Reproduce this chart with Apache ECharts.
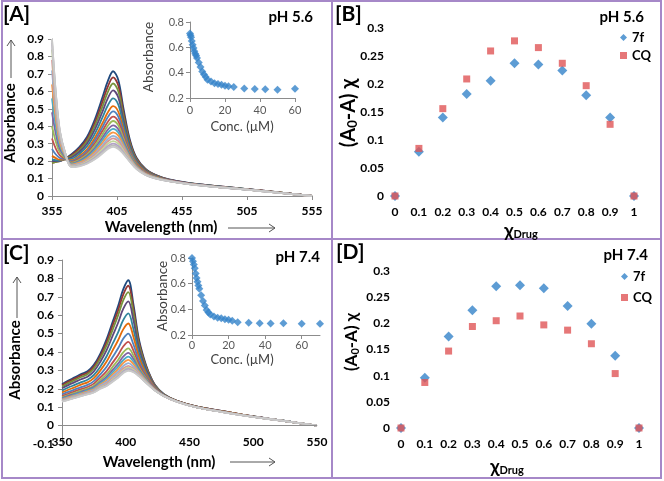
<!DOCTYPE html>
<html><head><meta charset="utf-8">
<script src="https://cdn.jsdelivr.net/npm/echarts@6/dist/echarts.min.js"></script>
<style>html,body{margin:0;padding:0;background:#fff}#c{width:664px;height:481px}</style>
</head><body><div id="c"></div>
<script>
// ---------- DATA ----------
// Panel A (pH 5.6) spectra
const wavelengthsA = [355,358,361,365,370,376,382,388,394,398,402,406,410,415,420,427,435,445,460,480,505,530,555];
const spectraA = [
 [0.20,0.20,0.205,0.215,0.24,0.28,0.34,0.44,0.57,0.66,0.715,0.665,0.50,0.32,0.22,0.155,0.12,0.095,0.075,0.058,0.04,0.02,0],
 [0.19,0.195,0.20,0.214,0.234,0.271,0.327,0.421,0.544,0.628,0.68,0.633,0.479,0.31,0.215,0.152,0.118,0.094,0.074,0.058,0.04,0.02,0],
 [0.19,0.195,0.20,0.213,0.228,0.262,0.315,0.403,0.517,0.597,0.645,0.601,0.458,0.30,0.209,0.149,0.117,0.093,0.074,0.057,0.039,0.02,0],
 [0.20,0.20,0.20,0.211,0.221,0.252,0.301,0.382,0.487,0.561,0.605,0.565,0.434,0.288,0.203,0.146,0.115,0.092,0.073,0.056,0.039,0.019,0],
 [0.21,0.205,0.203,0.21,0.213,0.241,0.285,0.358,0.454,0.52,0.56,0.524,0.407,0.275,0.197,0.142,0.113,0.091,0.072,0.056,0.039,0.019,0],
 [0.23,0.217,0.208,0.21,0.205,0.229,0.268,0.334,0.42,0.48,0.515,0.483,0.38,0.262,0.19,0.139,0.111,0.09,0.071,0.055,0.038,0.019,0],
 [0.27,0.238,0.218,0.212,0.20,0.222,0.258,0.318,0.397,0.453,0.485,0.455,0.362,0.254,0.185,0.136,0.109,0.089,0.071,0.055,0.038,0.019,0],
 [0.33,0.27,0.233,0.215,0.195,0.214,0.247,0.302,0.375,0.426,0.455,0.428,0.344,0.245,0.181,0.134,0.108,0.089,0.071,0.054,0.038,0.019,0],
 [0.40,0.31,0.25,0.219,0.191,0.208,0.238,0.289,0.356,0.403,0.43,0.405,0.329,0.238,0.177,0.132,0.107,0.088,0.07,0.054,0.037,0.019,0],
 [0.48,0.355,0.27,0.224,0.186,0.201,0.229,0.275,0.337,0.381,0.405,0.382,0.314,0.231,0.173,0.13,0.106,0.088,0.07,0.054,0.037,0.019,0],
 [0.56,0.398,0.29,0.229,0.183,0.196,0.222,0.265,0.322,0.363,0.385,0.364,0.302,0.225,0.17,0.128,0.105,0.087,0.07,0.053,0.037,0.018,0],
 [0.64,0.442,0.31,0.234,0.179,0.191,0.215,0.254,0.307,0.345,0.365,0.346,0.29,0.219,0.167,0.127,0.104,0.087,0.069,0.053,0.037,0.018,0],
 [0.72,0.486,0.33,0.24,0.176,0.186,0.207,0.243,0.292,0.327,0.345,0.327,0.278,0.213,0.164,0.125,0.103,0.086,0.069,0.053,0.036,0.018,0],
 [0.78,0.519,0.345,0.244,0.173,0.182,0.202,0.236,0.281,0.313,0.33,0.314,0.269,0.209,0.162,0.124,0.102,0.086,0.069,0.053,0.036,0.018,0],
 [0.84,0.552,0.36,0.248,0.171,0.178,0.197,0.227,0.27,0.30,0.315,0.30,0.26,0.205,0.16,0.123,0.102,0.085,0.068,0.052,0.036,0.018,0],
 [0.88,0.574,0.37,0.25,0.168,0.175,0.192,0.22,0.259,0.286,0.30,0.287,0.251,0.20,0.158,0.121,0.101,0.085,0.068,0.052,0.036,0.018,0],
 [0.90,0.585,0.375,0.25,0.166,0.172,0.188,0.214,0.251,0.277,0.29,0.277,0.245,0.197,0.156,0.121,0.10,0.085,0.068,0.052,0.036,0.018,0],
 [0.90,0.585,0.375,0.25,0.165,0.17,0.185,0.21,0.245,0.27,0.282,0.27,0.24,0.195,0.155,0.12,0.10,0.085,0.068,0.052,0.036,0.018,0]
];
// Panel A inset
const concA = [0,0.3,0.6,1,1.5,2,2.5,3,3.5,4,5,6,7,8,9,10,12,14,16,18,20,22,25,31,37,43,50,60];
const absA  = [0.71,0.695,0.68,0.65,0.62,0.595,0.57,0.55,0.535,0.515,0.48,0.445,0.41,0.385,0.365,0.345,0.33,0.317,0.31,0.305,0.296,0.292,0.287,0.275,0.272,0.27,0.265,0.273];

// Panel C (pH 7.4) spectra
const wavelengthsC = [350,355,360,365,370,375,380,385,390,394,398,402,406,410,414,418,423,430,440,455,475,500,525,550];
const spectraC = [
 [0.225,0.245,0.262,0.28,0.295,0.33,0.39,0.47,0.57,0.65,0.74,0.79,0.66,0.48,0.37,0.29,0.22,0.17,0.135,0.105,0.08,0.05,0.025,0],
 [0.219,0.239,0.255,0.273,0.287,0.321,0.378,0.454,0.55,0.626,0.712,0.76,0.637,0.467,0.362,0.286,0.218,0.169,0.135,0.105,0.08,0.05,0.025,0],
 [0.212,0.231,0.247,0.264,0.279,0.31,0.365,0.436,0.526,0.599,0.68,0.725,0.611,0.452,0.354,0.281,0.216,0.169,0.134,0.104,0.079,0.05,0.025,0],
 [0.203,0.22,0.236,0.252,0.266,0.295,0.346,0.41,0.493,0.559,0.634,0.675,0.573,0.431,0.341,0.274,0.213,0.168,0.134,0.104,0.079,0.05,0.025,0],
 [0.19,0.207,0.221,0.236,0.249,0.275,0.32,0.377,0.449,0.507,0.573,0.61,0.525,0.403,0.324,0.264,0.209,0.166,0.133,0.103,0.078,0.049,0.025,0],
 [0.18,0.195,0.208,0.223,0.235,0.258,0.299,0.348,0.412,0.464,0.523,0.555,0.483,0.38,0.31,0.257,0.206,0.165,0.133,0.103,0.078,0.049,0.024,0],
 [0.169,0.183,0.196,0.209,0.221,0.242,0.278,0.32,0.376,0.42,0.472,0.50,0.442,0.356,0.296,0.249,0.202,0.164,0.132,0.102,0.077,0.049,0.024,0],
 [0.16,0.173,0.186,0.198,0.21,0.228,0.261,0.296,0.345,0.384,0.43,0.455,0.408,0.337,0.285,0.242,0.20,0.163,0.132,0.102,0.077,0.049,0.024,0],
 [0.154,0.166,0.178,0.19,0.201,0.217,0.247,0.278,0.322,0.357,0.398,0.42,0.382,0.322,0.276,0.237,0.197,0.162,0.131,0.101,0.076,0.048,0.024,0],
 [0.149,0.161,0.172,0.184,0.195,0.21,0.237,0.265,0.305,0.337,0.375,0.395,0.363,0.311,0.27,0.234,0.196,0.162,0.131,0.101,0.076,0.048,0.024,0],
 [0.145,0.156,0.168,0.179,0.19,0.204,0.23,0.255,0.292,0.321,0.356,0.375,0.348,0.303,0.265,0.231,0.195,0.162,0.131,0.101,0.076,0.048,0.024,0],
 [0.141,0.153,0.163,0.174,0.185,0.198,0.223,0.246,0.28,0.307,0.34,0.357,0.334,0.295,0.26,0.228,0.194,0.161,0.131,0.101,0.076,0.048,0.024,0],
 [0.138,0.149,0.16,0.17,0.181,0.193,0.216,0.237,0.268,0.293,0.324,0.34,0.321,0.288,0.256,0.226,0.193,0.161,0.13,0.10,0.075,0.048,0.024,0],
 [0.135,0.146,0.156,0.167,0.177,0.188,0.21,0.229,0.258,0.281,0.31,0.325,0.31,0.282,0.252,0.224,0.192,0.16,0.13,0.10,0.075,0.048,0.024,0],
 [0.133,0.144,0.154,0.164,0.174,0.185,0.207,0.224,0.252,0.274,0.301,0.315,0.303,0.277,0.249,0.222,0.191,0.16,0.13,0.10,0.075,0.048,0.024,0],
 [0.132,0.142,0.152,0.162,0.172,0.183,0.204,0.22,0.247,0.268,0.294,0.308,0.297,0.274,0.247,0.221,0.19,0.16,0.13,0.10,0.075,0.048,0.024,0],
 [0.131,0.141,0.151,0.161,0.171,0.181,0.202,0.217,0.243,0.263,0.289,0.302,0.293,0.272,0.246,0.22,0.19,0.16,0.13,0.10,0.075,0.048,0.024,0],
 [0.13,0.14,0.15,0.16,0.17,0.18,0.20,0.215,0.24,0.26,0.285,0.298,0.29,0.27,0.245,0.22,0.19,0.16,0.13,0.10,0.075,0.048,0.024,0]
];
// Panel C inset
const concC = [0,0.5,1,1.5,2,2.5,3,3.5,4,5,6,7,8,9,10,12,14,16,18,20,22,25,31,37,43,50,60,70];
const absC  = [0.80,0.775,0.75,0.72,0.68,0.645,0.615,0.585,0.56,0.51,0.465,0.43,0.395,0.375,0.36,0.345,0.335,0.33,0.322,0.318,0.312,0.30,0.296,0.292,0.289,0.291,0.287,0.287];

// Panels B and D (Job plots)
const xDrug = [0,0.1,0.2,0.3,0.4,0.5,0.6,0.7,0.8,0.9,1];
const b7f = [0,0.079,0.14,0.182,0.206,0.237,0.235,0.224,0.18,0.14,0];
const bCQ = [0,0.085,0.156,0.209,0.259,0.277,0.265,0.237,0.197,0.128,0];
const d7f = [0,0.096,0.175,0.225,0.271,0.273,0.267,0.233,0.199,0.138,0];
const dCQ = [0,0.087,0.147,0.194,0.205,0.214,0.197,0.187,0.161,0.104,0];

// ---------- CHART ----------
const FONT = 'Lato, "DejaVu Sans", sans-serif';
const AXC = '#8c8c8c';
const curveColors = ['#1f497d','#943634','#77933c','#5f497a','#31859c','#e46c0a','#4f81bd','#c0504d','#9bbb59','#8064a2','#4bacc6','#f79646','#95b3d7','#d99694','#c3d69b','#b3a2c7','#bcbcbc','#cacaca'];
const BLUE = '#3483c9', RED = '#e05556';
const offA = wavelengthsA[0];

const boldLbl = (margin, extra) => Object.assign({fontSize:12, fontWeight:'bold', color:'#000', fontFamily:FONT, margin:margin}, extra||{});
const insetLbl = (margin, extra) => Object.assign({fontSize:11, color:'#595959', fontFamily:FONT, margin:margin}, extra||{});
const lineOn = {show:true, onZero:false, lineStyle:{color:AXC, width:1}};
const lineOff = {show:false, onZero:false};
const tickOn = {show:true, length:4, lineStyle:{color:AXC}};

const grid = [
  {left:52, top:39, width:260, height:157},   // A
  {left:190, top:22, width:105, height:76},   // A inset
  {left:395, top:28, width:239, height:168},  // B
  {left:62, top:260, width:255, height:184},  // C
  {left:192, top:258, width:128, height:77},  // C inset
  {left:401, top:271, width:238, height:157}  // D
];
const xAxis = [
  {gridIndex:0, type:'value', min:0, max:200, interval:50, axisLine:lineOn, axisTick:tickOn, splitLine:{show:false}, axisLabel:boldLbl(9,{formatter:v=>String(v+offA)})},
  {gridIndex:1, type:'value', min:0, max:60, interval:20, axisLine:lineOn, axisTick:tickOn, splitLine:{show:false}, axisLabel:insetLbl(7)},
  {gridIndex:2, type:'value', min:0, max:1, interval:0.1, axisLine:lineOff, axisTick:{show:false}, splitLine:{show:false}, axisLabel:boldLbl(10)},
  {gridIndex:3, type:'value', min:350, max:550, interval:50, axisLine:lineOff, axisTick:{show:false}, splitLine:{show:false}, axisLabel:boldLbl(-8)},
  {gridIndex:4, type:'value', min:0, max:70, interval:20, axisLine:lineOn, axisTick:tickOn, splitLine:{show:false}, axisLabel:insetLbl(5,{showMaxLabel:false})},
  {gridIndex:5, type:'value', min:0, max:1, interval:0.1, axisLine:lineOff, axisTick:{show:false}, splitLine:{show:false}, axisLabel:boldLbl(10)}
];
const yAxis = [
  {gridIndex:0, type:'value', min:0, max:0.9, interval:0.1, axisLine:lineOn, axisTick:tickOn, splitLine:{show:false}, axisLabel:boldLbl(8)},
  {gridIndex:1, type:'value', min:0.2, max:0.8, interval:0.2, axisLine:lineOn, axisTick:tickOn, splitLine:{show:false}, axisLabel:insetLbl(6)},
  {gridIndex:2, type:'value', min:0, max:0.3, interval:0.05, axisLine:lineOff, axisTick:{show:false}, splitLine:{show:false}, axisLabel:boldLbl(11)},
  {gridIndex:3, type:'value', min:-0.1, max:0.9, interval:0.1, axisLine:lineOn, axisTick:tickOn, splitLine:{show:false}, axisLabel:boldLbl(8)},
  {gridIndex:4, type:'value', min:0.2, max:0.8, interval:0.2, axisLine:lineOn, axisTick:tickOn, splitLine:{show:false}, axisLabel:insetLbl(6)},
  {gridIndex:5, type:'value', min:0, max:0.3, interval:0.05, axisLine:lineOff, axisTick:{show:false}, splitLine:{show:false}, axisLabel:boldLbl(11)}
];

const series = [];
spectraA.forEach((row, k) => series.push({
  type:'line', xAxisIndex:0, yAxisIndex:0, silent:true, showSymbol:false, smooth:0.35,
  data: row.map((v, i) => [wavelengthsA[i] - offA, v]),
  lineStyle:{width:1.8, color:curveColors[k]}, itemStyle:{color:curveColors[k]}
}));
spectraC.forEach((row, k) => {
  const s = {
    type:'line', xAxisIndex:3, yAxisIndex:3, silent:true, showSymbol:false, smooth:0.35,
    data: row.map((v, i) => [wavelengthsC[i], v]),
    lineStyle:{width:1.8, color:curveColors[k]}, itemStyle:{color:curveColors[k]}
  };
  if (k === 0) s.markLine = {silent:true, symbol:['none','none'], label:{show:false}, animation:false,
    lineStyle:{color:AXC, width:1, type:'solid'}, data:[{yAxis:0}]};
  series.push(s);
});
series.push({type:'scatter', name:'insetA', xAxisIndex:1, yAxisIndex:1, symbol:'diamond', symbolSize:8,
  itemStyle:{color:BLUE}, data: concA.map((c, i) => [c, absA[i]])});
series.push({type:'scatter', name:'insetC', xAxisIndex:4, yAxisIndex:4, symbol:'diamond', symbolSize:8,
  itemStyle:{color:BLUE}, data: concC.map((c, i) => [c, absC[i]])});
series.push({type:'scatter', name:'7f', xAxisIndex:2, yAxisIndex:2, symbol:'diamond', symbolSize:10,
  itemStyle:{color:BLUE}, data: xDrug.map((x, i) => [x, b7f[i]])});
series.push({type:'scatter', name:'CQ', xAxisIndex:2, yAxisIndex:2, symbol:'rect', symbolSize:7,
  itemStyle:{color:RED}, data: xDrug.map((x, i) => [x, bCQ[i]])});
series.push({type:'scatter', name:'7f', xAxisIndex:5, yAxisIndex:5, symbol:'diamond', symbolSize:10,
  itemStyle:{color:BLUE}, data: xDrug.map((x, i) => [x, d7f[i]])});
series.push({type:'scatter', name:'CQ', xAxisIndex:5, yAxisIndex:5, symbol:'rect', symbolSize:7,
  itemStyle:{color:RED}, data: xDrug.map((x, i) => [x, dCQ[i]])});

const legendText = {fontSize:13, fontWeight:'bold', color:'#000', fontFamily:FONT};
const legendItems = [{name:'7f', icon:'diamond', itemStyle:{}},{name:'CQ', icon:'rect'}];
const legend = [
  {data:legendItems, orient:'vertical', left:620, top:31,
   itemWidth:7, itemHeight:7, itemGap:5, padding:0, selectedMode:false, textStyle:legendText},
  {data:legendItems, orient:'vertical', left:621, top:270,
   itemWidth:7, itemHeight:7, itemGap:8, padding:0, selectedMode:false, textStyle:legendText}
];

const PURPLE = '#a688c8';
const txt = (x, y, text, size, weight, align, extra) => Object.assign({type:'text', x:x, y:y, z:100,
  style:{text:text, fontSize:size, fontWeight:weight||'normal', fontFamily:FONT, fill:'#000',
         align:align||'center', verticalAlign:'middle', textAlign:align||'center', textVerticalAlign:'middle'}}, extra||{});
const rot = {rotation: Math.PI/2};
const arrowH = (x1, x2, y) => [
  {type:'line', z:100, shape:{x1:x1, y1:y, x2:x2, y2:y}, style:{stroke:'#555', lineWidth:1}},
  {type:'polyline', z:100, shape:{points:[[x2-6, y-4],[x2, y],[x2-6, y+4]]}, style:{stroke:'#555', fill:null, lineWidth:1}}
];
const arrowV = (x, y1, y2) => [
  {type:'line', z:100, shape:{x1:x, y1:y1, x2:x, y2:y2}, style:{stroke:'#555', lineWidth:1}},
  {type:'polyline', z:100, shape:{points:[[x-4, y2+6],[x, y2],[x+4, y2+6]]}, style:{stroke:'#555', fill:null, lineWidth:1}}
];
const richY = (x, y, size) => ({type:'text', x:x, y:y, z:100, rotation:Math.PI/2,
  style:{text:'{m|(A}{s|0}{m|-A) χ}', align:'center', verticalAlign:'middle', textAlign:'center', textVerticalAlign:'middle',
    rich:{m:{fontSize:size, fontWeight:'bold', fontFamily:FONT, fill:'#000', lineHeight:size+4, verticalAlign:'bottom'},
          s:{fontSize:Math.round(size*0.65), fontWeight:'bold', fontFamily:FONT, fill:'#000', lineHeight:10, verticalAlign:'bottom'}}}});
const richX = (x, y) => ({type:'text', x:x, y:y, z:100,
  style:{text:'{c|χ}{d|Drug}', align:'center', verticalAlign:'middle', textAlign:'center', textVerticalAlign:'middle',
    rich:{c:{fontSize:19, fontWeight:'bold', fontFamily:FONT, fill:'#000', lineHeight:22, verticalAlign:'bottom'},
          d:{fontSize:11, fontWeight:'bold', fontFamily:FONT, fill:'#000', lineHeight:11, verticalAlign:'bottom'}}}});

const grayTxt = (el) => { el.style.fill = '#404040'; return el; };
const graphicEls = [
  {type:'rect', z:100, shape:{x:2, y:1, width:659, height:477}, style:{fill:null, stroke:PURPLE, lineWidth:2}},
  {type:'line', z:100, shape:{x1:332, y1:1, x2:332, y2:478}, style:{stroke:PURPLE, lineWidth:2}},
  {type:'line', z:100, shape:{x1:2, y1:239, x2:661, y2:239}, style:{stroke:PURPLE, lineWidth:2}},
  txt(3, 14, '[A]', 21, 'bold', 'left'),
  txt(335, 14, '[B]', 21, 'bold', 'left'),
  txt(3, 253, '[C]', 21, 'bold', 'left'),
  txt(336, 252, '[D]', 21, 'bold', 'left'),
  txt(313, 17, 'pH 5.6', 15, 'bold', 'right'),
  txt(644, 17, 'pH 5.6', 15, 'bold', 'right'),
  txt(320, 257, 'pH 7.4', 15, 'bold', 'right'),
  txt(648, 255, 'pH 7.4', 15, 'bold', 'right'),
  txt(161, 227, 'Wavelength (nm)', 15, 'bold'),
  txt(10, 123, 'Absorbance', 15, 'bold', 'center', rot),
  grayTxt(txt(242, 127, 'Conc. (\u00b5M)', 13, 'normal')),
  grayTxt(txt(149, 57, 'Absorbance', 13.5, 'normal', 'center', rot)),
  txt(159, 462, 'Wavelength (nm)', 15, 'bold'),
  txt(15, 360, 'Absorbance', 15, 'bold', 'center', rot),
  grayTxt(txt(242, 360, 'Conc. (\u00b5M)', 13, 'normal')),
  grayTxt(txt(163, 296, 'Absorbance', 13.5, 'normal', 'center', rot)),
  richX(521, 229),
  richX(507, 465),
  richY(347, 113, 20),
  richY(350, 342, 17)
].concat(arrowH(228, 275, 228), arrowV(11, 78, 40), arrowH(230, 275, 462), arrowV(17, 318, 277));

const chart = echarts.init(document.getElementById('c'), null, {renderer:'canvas'});
chart.setOption({
  animation:false,
  backgroundColor:'#fff',
  textStyle:{fontFamily:FONT},
  grid:grid, xAxis:xAxis, yAxis:yAxis, series:series, legend:legend,
  graphic:{elements:graphicEls}
});
</script>
</body></html>
